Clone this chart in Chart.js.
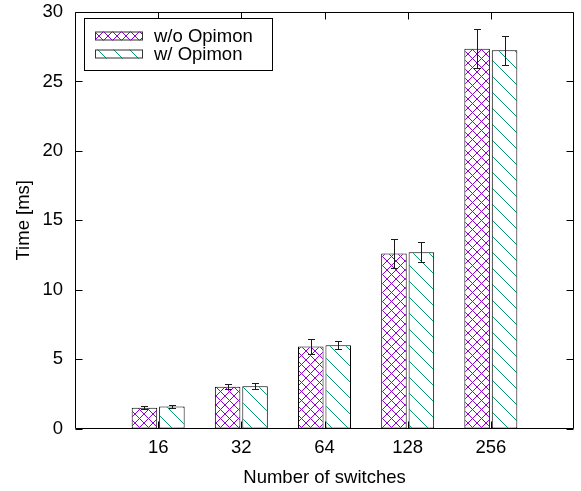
<!DOCTYPE html>
<html><head><meta charset="utf-8">
<script src="https://cdn.jsdelivr.net/npm/chart.js@4.4.0/dist/chart.umd.min.js"></script>
<style>html,body{margin:0;padding:0;background:#fff;overflow:hidden;} #wrap{width:581px;height:491px;}</style>
</head><body><div id="wrap"><canvas id="c" width="581" height="491"></canvas></div>
<script>
// ---- data ----
const categories = ['16', '32', '64', '128', '256'];
const seriesNames = ['w/o Opimon', 'w/ Opimon'];
const withoutOpimon = [1.5, 3.0, 5.9, 12.6, 27.35];
const withoutOpimonErr = [0.1, 0.19, 0.55, 1.05, 1.4];
const withOpimon = [1.58, 3.05, 6.0, 12.7, 27.25];
const withOpimonErr = [0.1, 0.22, 0.28, 0.7, 1.04];
const yTicks = [0, 5, 10, 15, 20, 25, 30];
const xTitle = 'Number of switches';
const yTitle = 'Time [ms]';

const FONT = 'Liberation Sans, Arial, Helvetica, sans-serif';
const FS = 18.5;
const PURPLE = '#9400d3';
const GREEN = '#009e73';

function makePattern(kind) {
  const c = document.createElement('canvas');
  const s = kind === 'cross' ? 9 : 16;
  c.width = s; c.height = s;
  const g = c.getContext('2d');
  g.fillStyle = '#fff';
  g.fillRect(0, 0, s, s);
  g.strokeStyle = kind === 'cross' ? PURPLE : GREEN;
  g.lineWidth = 1;
  g.beginPath();
  g.moveTo(-1, -1); g.lineTo(s + 1, s + 1);
  if (kind === 'cross') { g.moveTo(-1, s + 1); g.lineTo(s + 1, -1); }
  g.stroke();
  return document.getElementById('c').getContext('2d').createPattern(c, 'repeat');
}
const patCross = makePattern('cross');
const patDiag = makePattern('diag');

const labels = [''].concat(categories, ['']);
const pad = arr => [null].concat(arr, [null]);
const errs = [pad(withoutOpimonErr), pad(withOpimonErr)];

const framePlugin = {
  id: 'frame',
  afterDatasetsDraw(chart) {
    const { ctx, chartArea: a, scales } = chart;
    const L = Math.round(a.left) + 0.5, R = Math.round(a.right) - 0.5;
    const T = Math.round(a.top) + 0.5, B = Math.round(a.bottom) - 0.5;
    ctx.save();
    ctx.strokeStyle = '#000';
    ctx.lineWidth = 1;
    ctx.beginPath();
    ctx.rect(L, T, R - L, B - T);
    const tl = 7;
    yTicks.forEach(v => {
      const y = Math.round(scales.y.getPixelForValue(v)) + 0.5;
      ctx.moveTo(L, y); ctx.lineTo(L + tl, y);
      ctx.moveTo(R, y); ctx.lineTo(R - tl, y);
    });
    categories.forEach((c, i) => {
      const x = Math.round(scales.x.getPixelForValue(i + 1)) + 0.5;
      ctx.moveTo(x, B); ctx.lineTo(x, B - tl);
      ctx.moveTo(x, T); ctx.lineTo(x, T + tl);
    });
    ctx.stroke();
    // error bars
    ctx.strokeStyle = '#1a1a1a';
    ctx.beginPath();
    chart.data.datasets.forEach((ds, di) => {
      const meta = chart.getDatasetMeta(di);
      meta.data.forEach((el, i) => {
        const v = ds.data[i], e = errs[di][i];
        if (v == null || e == null) return;
        const x = Math.round(el.x) + 0.5;
        const y1 = Math.round(scales.y.getPixelForValue(v + e)) + 0.5;
        const y2 = Math.round(scales.y.getPixelForValue(v - e)) + 0.5;
        ctx.moveTo(x, y1); ctx.lineTo(x, y2);
        ctx.moveTo(x - 3.5, y1); ctx.lineTo(x + 3.5, y1);
        ctx.moveTo(x - 3.5, y2); ctx.lineTo(x + 3.5, y2);
      });
    });
    ctx.stroke();
    // legend
    ctx.strokeStyle = '#000';
    ctx.fillStyle = '#fff';
    ctx.fillRect(85, 19, 187, 51);
    ctx.strokeRect(84.5, 18.5, 188, 52);
    const pats = [patCross, patDiag];
    ctx.font = FS + 'px ' + FONT;
    ctx.textBaseline = 'middle';
    ctx.textAlign = 'left';
    seriesNames.forEach((n, i) => {
      const cy = 36 + i * 18;
      ctx.fillStyle = pats[i];
      ctx.fillRect(95, cy - 4.5, 48, 9);
      ctx.strokeStyle = '#333';
      ctx.strokeRect(95.5, cy - 4, 47, 8);
      ctx.fillStyle = '#000';
      ctx.fillText(n, 154, cy + 1);
    });
    ctx.restore();
  }
};

new Chart(document.getElementById('c'), {
  type: 'bar',
  data: {
    labels: labels,
    datasets: [
      { label: seriesNames[0], data: pad(withoutOpimon), backgroundColor: patCross,
        borderColor: '#000', borderWidth: 1, borderSkipped: false },
      { label: seriesNames[1], data: pad(withOpimon), backgroundColor: patDiag,
        borderColor: '#000', borderWidth: 1, borderSkipped: false }
    ]
  },
  options: {
    responsive: false,
    animation: false,
    devicePixelRatio: 1,
    categoryPercentage: 0.66,
    barPercentage: 0.93,
    layout: { padding: { left: 0, right: 7, top: 12, bottom: 0 } },
    plugins: { legend: { display: false }, tooltip: { enabled: false } },
    scales: {
      x: {
        type: 'category', offset: false,
        grid: { display: false, drawTicks: false }, border: { display: false },
        ticks: { color: '#000', font: { family: FONT, size: FS }, maxRotation: 0, autoSkip: false, padding: 8 },
        title: { display: true, text: xTitle, color: '#000', font: { family: FONT, size: FS }, padding: { top: 0, bottom: 2 } },
        afterFit(s) { s.height = 62.5; s.paddingLeft = 0; s.paddingRight = 0; }
      },
      y: {
        min: 0, max: 30,
        grid: { display: false, drawTicks: false }, border: { display: false },
        ticks: { stepSize: 5, color: '#000', font: { family: FONT, size: FS }, padding: 12 },
        title: { display: true, text: yTitle, color: '#000', font: { family: FONT, size: FS }, padding: { top: 13, bottom: 0 } },
        afterFit(s) { s.width = 75; s.paddingTop = 0; s.paddingBottom = 0; }
      }
    }
  },
  plugins: [framePlugin]
});
</script></body></html>
